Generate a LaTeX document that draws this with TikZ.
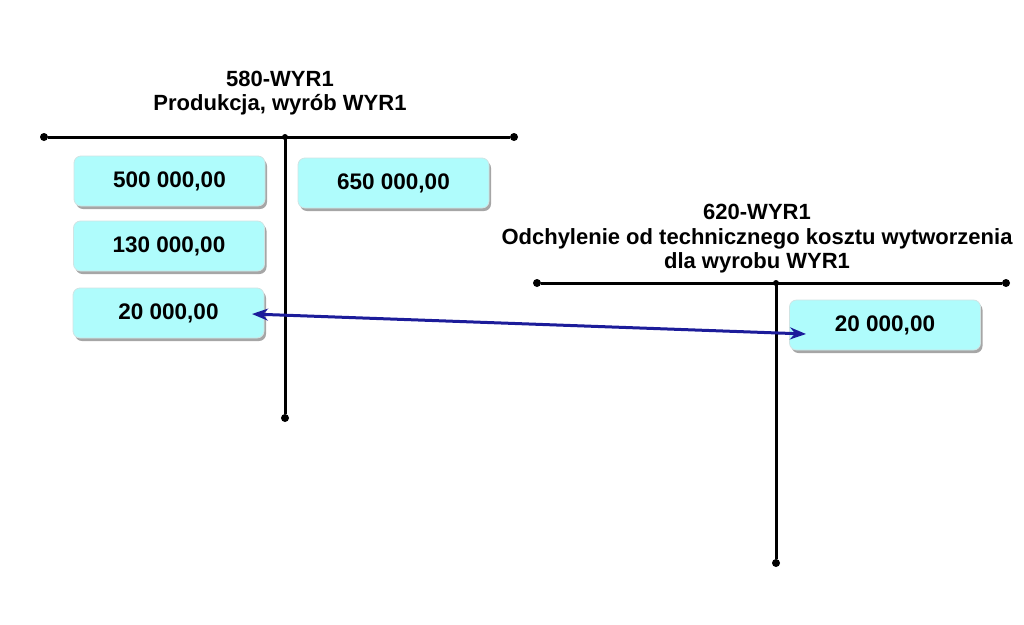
\documentclass[tikz,border=0pt]{standalone}
\usepackage{fontspec}
\setmainfont{Liberation Sans}
\usetikzlibrary{shadows,arrows.meta}
\definecolor{boxfill}{HTML}{AFFCFC}
\definecolor{boxline}{HTML}{D0E4E4}
\definecolor{arrowblue}{HTML}{1C1C9A}
\begin{document}
\begin{tikzpicture}[x=1pt,y=-1pt,
  amount/.style={draw=boxline,line width=0.8pt,fill=boxfill,rounded corners=7pt,
    minimum width=191pt,minimum height=50pt,inner sep=0pt,
    font=\fontsize{22.5}{25}\selectfont\bfseries,
    drop shadow={shadow xshift=2pt,shadow yshift=-3pt,fill=black,opacity=0.35}},
  title/.style={align=center,font=\fontsize{22}{24.5}\selectfont\bfseries},
  tline/.style={line width=3pt,black},
  enddot/.style={circle,fill=black,inner sep=0pt,minimum size=8pt}]
\useasboundingbox (0,0) rectangle (1024,624);
% left account
\node[title] (t1) at (280,93) {580-WYR1\\Produkcja, wyrób WYR1};
\node[enddot] (l1a) at (44,137) {};
\node[enddot] (l1b) at (514,137) {};
\node[enddot,minimum size=6pt] (l1c) at (285,137) {};
\node[enddot] (l1d) at (285,418) {};
\draw[tline] (l1a) -- (l1b);
\draw[tline] (l1c.center) -- (l1d);
\node[amount] (a1) at (169.5,181) {500 000,00};
\node[amount] (a2) at (393.5,183) {650 000,00};
\node[amount] (a3) at (169,246) {130 000,00};
\node[amount] (a4) at (168.5,313) {20 000,00};
% right account
\node[title] (t2) at (757,239) {620-WYR1\\Odchylenie od technicznego kosztu wytworzenia\\dla wyrobu WYR1};
\node[enddot] (r1a) at (537,283) {};
\node[enddot] (r1b) at (1006,283) {};
\node[enddot,minimum size=6pt] (r1c) at (776,283) {};
\node[enddot] (r1d) at (776,563) {};
\draw[tline] (r1a) -- (r1b);
\draw[tline] (r1c.center) -- (r1d);
\node[amount] (b1) at (885,325) {20 000,00};
% connector
\coordinate (p1) at (252,314);
\coordinate (p2) at (806,334);
\draw[arrowblue,line width=3pt,{Stealth[length=16pt,width=12pt]}-{Stealth[length=16pt,width=12pt]}] (p1) -- (p2);
\end{tikzpicture}
\end{document}
